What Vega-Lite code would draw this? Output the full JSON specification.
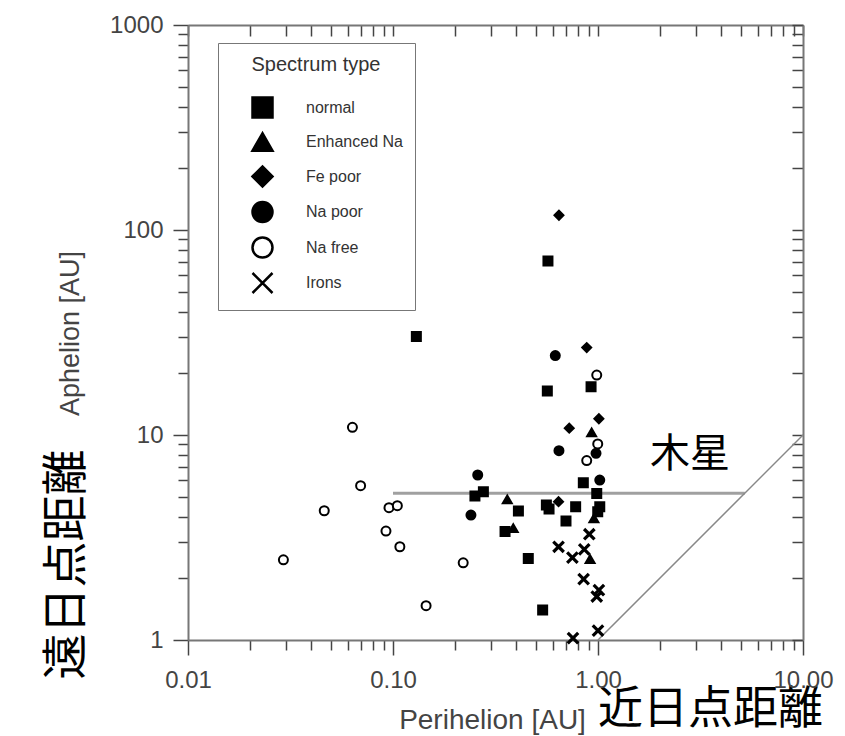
{
  "$schema": "https://vega.github.io/schema/vega-lite/v6.json",
  "width": 615,
  "height": 615,
  "autosize": {"type": "none"},
  "padding": {"left": 188, "top": 25, "right": 42, "bottom": 96},
  "background": "white",
  "config": {
    "view": {"stroke": null},
    "font": "Liberation Sans",
    "axis": {
      "grid": false,
      "domainColor": "#777",
      "domainWidth": 2,
      "tickColor": "#444",
      "tickWidth": 1.5,
      "labelFont": "Liberation Sans",
      "titleFont": "Liberation Sans",
      "labelColor": "#444",
      "titleColor": "#444",
      "titleFontWeight": "normal",
      "labelOverlap": false,
      "labelFlush": false
    }
  },
  "datasets": {
    "points": [
      {"q": 0.570, "Q": 70.6, "type": "normal"},
      {"q": 0.925, "Q": 17.2, "type": "normal"},
      {"q": 0.566, "Q": 16.4, "type": "normal"},
      {"q": 0.130, "Q": 30.2, "type": "normal"},
      {"q": 0.276, "Q": 5.29, "type": "normal"},
      {"q": 0.251, "Q": 5.04, "type": "normal"},
      {"q": 0.409, "Q": 4.26, "type": "normal"},
      {"q": 0.352, "Q": 3.38, "type": "normal"},
      {"q": 0.457, "Q": 2.50, "type": "normal"},
      {"q": 0.537, "Q": 1.40, "type": "normal"},
      {"q": 0.577, "Q": 4.35, "type": "normal"},
      {"q": 0.560, "Q": 4.55, "type": "normal"},
      {"q": 0.778, "Q": 4.47, "type": "normal"},
      {"q": 0.698, "Q": 3.81, "type": "normal"},
      {"q": 0.848, "Q": 5.85, "type": "normal"},
      {"q": 0.986, "Q": 5.19, "type": "normal"},
      {"q": 1.02, "Q": 4.47, "type": "normal"},
      {"q": 0.997, "Q": 4.22, "type": "normal"},
      {"q": 0.931, "Q": 10.3, "type": "Enhanced Na"},
      {"q": 0.361, "Q": 4.85, "type": "Enhanced Na"},
      {"q": 0.386, "Q": 3.51, "type": "Enhanced Na"},
      {"q": 0.955, "Q": 3.92, "type": "Enhanced Na"},
      {"q": 0.915, "Q": 2.48, "type": "Enhanced Na"},
      {"q": 0.645, "Q": 118, "type": "Fe poor"},
      {"q": 0.881, "Q": 26.7, "type": "Fe poor"},
      {"q": 1.01, "Q": 12.0, "type": "Fe poor"},
      {"q": 0.724, "Q": 10.8, "type": "Fe poor"},
      {"q": 0.642, "Q": 4.73, "type": "Fe poor"},
      {"q": 0.619, "Q": 24.4, "type": "Na poor"},
      {"q": 0.978, "Q": 8.14, "type": "Na poor"},
      {"q": 0.645, "Q": 8.38, "type": "Na poor"},
      {"q": 0.259, "Q": 6.38, "type": "Na poor"},
      {"q": 0.240, "Q": 4.07, "type": "Na poor"},
      {"q": 1.02, "Q": 6.03, "type": "Na poor"},
      {"q": 0.986, "Q": 19.6, "type": "Na free"},
      {"q": 0.997, "Q": 9.04, "type": "Na free"},
      {"q": 0.881, "Q": 7.5, "type": "Na free"},
      {"q": 0.220, "Q": 2.38, "type": "Na free"},
      {"q": 0.0634, "Q": 10.9, "type": "Na free"},
      {"q": 0.0695, "Q": 5.66, "type": "Na free"},
      {"q": 0.0462, "Q": 4.27, "type": "Na free"},
      {"q": 0.0956, "Q": 4.42, "type": "Na free"},
      {"q": 0.105, "Q": 4.52, "type": "Na free"},
      {"q": 0.0924, "Q": 3.40, "type": "Na free"},
      {"q": 0.108, "Q": 2.85, "type": "Na free"},
      {"q": 0.0292, "Q": 2.46, "type": "Na free"},
      {"q": 0.145, "Q": 1.47, "type": "Na free"}
    ],
    "irons": [
      {"q": 0.907, "Q": 3.28, "type": "Irons"},
      {"q": 0.642, "Q": 2.85, "type": "Irons"},
      {"q": 0.857, "Q": 2.77, "type": "Irons"},
      {"q": 0.750, "Q": 2.52, "type": "Irons"},
      {"q": 0.851, "Q": 1.98, "type": "Irons"},
      {"q": 1.01, "Q": 1.75, "type": "Irons"},
      {"q": 0.986, "Q": 1.63, "type": "Irons"},
      {"q": 1.0, "Q": 1.11, "type": "Irons"},
      {"q": 0.755, "Q": 1.02, "type": "Irons"}
    ],
    "jupiter": [{"q1": 0.1, "q2": 5.2, "Q": 5.2}],
    "diag": [{"q1": 1, "q2": 10, "Q1": 1, "Q2": 10}],
    "label": [{"q": 2.81, "Q": 7.99, "text": "木星"}]
  },
  "resolve": {"axis": {"x": "independent", "y": "independent"}},
  "layer": [
    {
      "data": {"name": "jupiter"},
      "mark": {"type": "rule", "color": "#a0a0a0", "strokeWidth": 3},
      "encoding": {
        "x": {
          "field": "q1", "type": "quantitative",
          "scale": {"type": "log", "domain": [0.01, 10], "nice": false},
          "axis": {
            "orient": "top",
            "values": [0.01,0.02,0.03,0.04,0.05,0.06,0.07,0.08,0.09,0.1,0.2,0.3,0.4,0.5,0.6,0.7,0.8,0.9,1,2,3,4,5,6,7,8,9,10],
            "labels": false,
            "ticks": true,
            "tickSize": -11,
            "title": "近日点距離",
            "titleFont": "Noto Sans CJK JP",
            "titleFontSize": 45,
            "titleColor": "black",
            "titleX": 522,
            "titleY": 684,
            "titleAlign": "center",
            "titleBaseline": "middle"
          }
        },
        "x2": {"field": "q2"},
        "y": {
          "field": "Q", "type": "quantitative",
          "scale": {"type": "log", "domain": [1, 1000], "nice": false},
          "axis": {
            "orient": "right",
            "values": [1,2,3,4,5,6,7,8,9,10,20,30,40,50,60,70,80,90,100,200,300,400,500,600,700,800,900,1000],
            "labels": false,
            "ticks": true,
            "tickSize": -11,
            "title": "遠日点距離",
            "titleFont": "Noto Sans CJK JP",
            "titleFontSize": 46,
            "titleColor": "black",
            "titleAngle": 270,
            "titleX": -737,
            "titleY": 539,
            "titleAlign": "center",
            "titleBaseline": "middle"
          }
        }
      }
    },
    {
      "data": {"name": "diag"},
      "mark": {"type": "rule", "color": "#888", "strokeWidth": 1.5},
      "encoding": {
        "x": {"field": "q1", "type": "quantitative", "axis": null},
        "x2": {"field": "q2"},
        "y": {"field": "Q1", "type": "quantitative", "axis": null},
        "y2": {"field": "Q2"}
      }
    },
    {
      "data": {"name": "label"},
      "mark": {"type": "text", "font": "Noto Sans CJK JP", "fontSize": 40, "color": "black", "align": "center", "baseline": "middle"},
      "encoding": {
        "x": {"field": "q", "type": "quantitative", "axis": null},
        "y": {"field": "Q", "type": "quantitative", "axis": null},
        "text": {"field": "text"}
      }
    },
    {
      "data": {"name": "points"},
      "mark": {"type": "point", "size": 81, "strokeWidth": 2, "opacity": 1},
      "encoding": {
        "x": {
          "field": "q", "type": "quantitative",
          "axis": {
            "orient": "bottom",
            "values": [0.01,0.02,0.03,0.04,0.05,0.06,0.07,0.08,0.09,0.1,0.2,0.3,0.4,0.5,0.6,0.7,0.8,0.9,1,2,3,4,5,6,7,8,9,10],
            "format": ".2f",
            "labelExpr": "indexof([0.01,0.1,1,10], datum.value) >= 0 ? datum.label : ''",
            "ticks": true,
            "tickSize": {"condition": {"test": "indexof([0.01,0.1,1,10], datum.value) >= 0", "value": 15}, "value": 10},
            "labelFontSize": 24,
            "labelPadding": 13,
            "title": "Perihelion [AU]",
            "titleFontSize": 28,
            "titleX": 304,
            "titleY": 80,
            "titleAlign": "center",
            "titleBaseline": "middle"
          }
        },
        "y": {
          "field": "Q", "type": "quantitative",
          "axis": {
            "orient": "left",
            "values": [1,2,3,4,5,6,7,8,9,10,20,30,40,50,60,70,80,90,100,200,300,400,500,600,700,800,900,1000],
            "format": "d",
            "labelExpr": "indexof([1,10,100,1000], datum.value) >= 0 ? datum.label : ''",
            "ticks": true,
            "tickSize": {"condition": {"test": "indexof([1,10,100,1000], datum.value) >= 0", "value": 15}, "value": 10},
            "labelFontSize": 24,
            "labelPadding": 10,
            "title": "Aphelion [AU]",
            "titleFontSize": 27,
            "titleX": -118,
            "titleY": 308,
            "titleAlign": "center",
            "titleBaseline": "middle"
          }
        },
        "shape": {
          "field": "type", "type": "nominal",
          "scale": {
            "domain": ["normal", "Enhanced Na", "Fe poor", "Na poor", "Na free", "Irons"],
            "range": ["square", "triangle-up", "diamond", "circle", "circle", "M-1,-1L1,1M1,-1L-1,1"]
          },
          "legend": {
            "title": "Spectrum type", "orient": "none", "legendX": 30, "legendY": 18,
            "strokeColor": "#777", "fillColor": "white", "padding": 12,
            "titleAnchor": "middle", "titleFontSize": 20, "titleFontWeight": "normal", "titleColor": "#333", "titlePadding": 21,
            "labelFontSize": 16, "labelColor": "#333",
            "symbolOffset": 21, "labelOffset": 32, "rowPadding": 4.5,
            "symbolSize": 400, "symbolStrokeWidth": 2.5
          }
        },
        "fill": {
          "field": "type", "type": "nominal",
          "scale": {
            "domain": ["normal", "Enhanced Na", "Fe poor", "Na poor", "Na free", "Irons"],
            "range": ["black", "black", "black", "black", "white", "black"]
          },
          "legend": {
            "title": "Spectrum type", "orient": "none", "legendX": 30, "legendY": 18,
            "strokeColor": "#777", "fillColor": "white", "padding": 12,
            "titleAnchor": "middle", "titleFontSize": 20, "titleFontWeight": "normal", "titleColor": "#333", "titlePadding": 21,
            "labelFontSize": 16, "labelColor": "#333",
            "symbolOffset": 21, "labelOffset": 32, "rowPadding": 4.5,
            "symbolSize": 400, "symbolStrokeWidth": 2.5
          }
        },
        "stroke": {
          "field": "type", "type": "nominal",
          "scale": {
            "domain": ["normal", "Enhanced Na", "Fe poor", "Na poor", "Na free", "Irons"],
            "range": ["black", "black", "black", "black", "black", "black"]
          },
          "legend": {
            "title": "Spectrum type", "orient": "none", "legendX": 30, "legendY": 18,
            "strokeColor": "#777", "fillColor": "white", "padding": 12,
            "titleAnchor": "middle", "titleFontSize": 20, "titleFontWeight": "normal", "titleColor": "#333", "titlePadding": 21,
            "labelFontSize": 16, "labelColor": "#333",
            "symbolOffset": 21, "labelOffset": 32, "rowPadding": 4.5,
            "symbolSize": 400, "symbolStrokeWidth": 2.5
          }
        }
      }
    },
    {
      "data": {"name": "irons"},
      "mark": {"type": "point", "size": 110, "strokeWidth": 3.2, "opacity": 1},
      "encoding": {
        "x": {"field": "q", "type": "quantitative", "axis": null},
        "y": {"field": "Q", "type": "quantitative", "axis": null},
        "shape": {"field": "type", "type": "nominal"},
        "fill": {"field": "type", "type": "nominal"},
        "stroke": {"field": "type", "type": "nominal"}
      }
    }
  ]
}
